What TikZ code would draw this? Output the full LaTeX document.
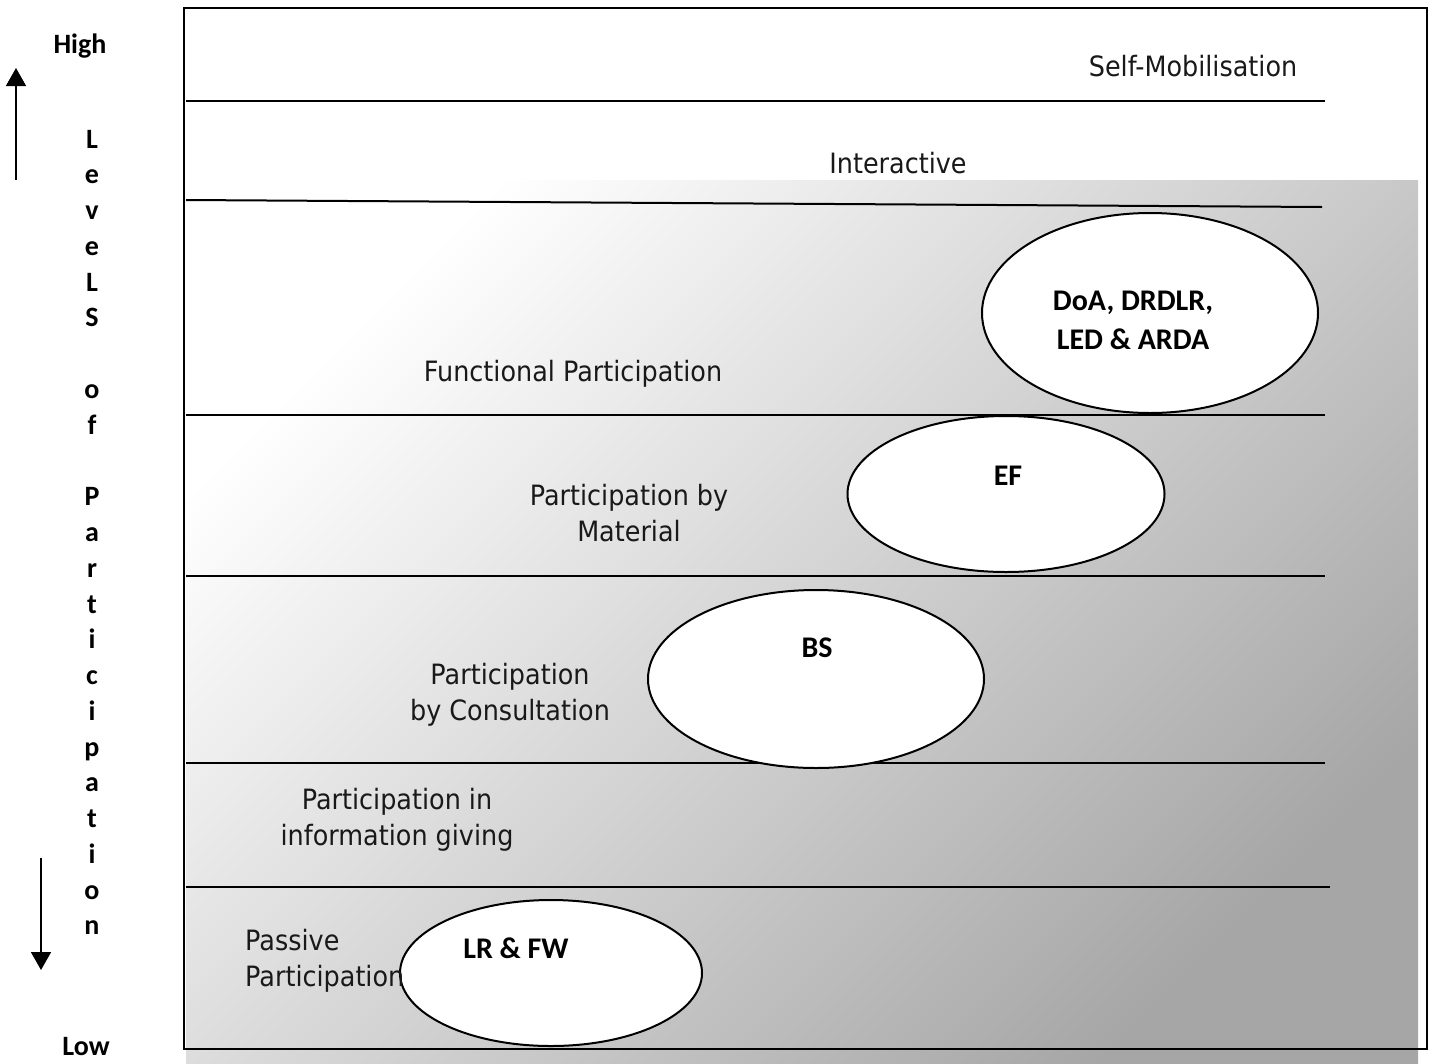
\documentclass[tikz,border=0pt]{standalone}
\usepackage{fontspec}
\setmainfont[FakeStretch=0.91]{DejaVu Sans}
\newfontfamily\lblfont{Carlito}
\usetikzlibrary{arrows.meta,shapes.geometric}
\tikzset{
  band/.style={line width=2pt, draw=black},
  blob/.style={ellipse, draw=black, fill=white, line width=2pt, inner sep=0pt},
  lvl/.style={font=\fontsize{28pt}{36pt}\selectfont, align=center, inner sep=0pt, text=black!90},
  actor/.style={font=\lblfont\bfseries\fontsize{30pt}{39pt}\selectfont, align=center, inner sep=0pt},
  axislbl/.style={font=\lblfont\bfseries\fontsize{28pt}{32pt}\selectfont, inner sep=0pt, anchor=base},
  axisarrow/.style={line width=1.6pt, -{Triangle[width=20pt,length=18pt]}}
}
\begin{document}
\begin{tikzpicture}[x=1pt,y=-1pt]
\useasboundingbox (0,0) rectangle (1429,1063);
% gradient panel
\shade[top color=white, bottom color=black!35, shading angle=45] (186,180) rectangle (1418,1063);
% frame
\draw[band] (184,8) rectangle (1427,1049);
% band separators
\coordinate (l1a) at (186,101); \coordinate (l1b) at (1325,101);
\coordinate (l2a) at (186,200); \coordinate (l2b) at (1322,207);
\coordinate (l3a) at (186,415); \coordinate (l3b) at (1325,415);
\coordinate (l4a) at (186,576); \coordinate (l4b) at (1325,576);
\coordinate (l5a) at (186,763); \coordinate (l5b) at (1325,763);
\coordinate (l6a) at (186,887); \coordinate (l6b) at (1330,887);
\draw[band] (l1a) -- (l1b);
\draw[band] (l2a) -- (l2b);
\draw[band] (l3a) -- (l3b);
\draw[band] (l4a) -- (l4b);
\draw[band] (l5a) -- (l5b);
\draw[band] (l6a) -- (l6b);
% level labels
\node[lvl] (selfmob) at (1193,66) {Self-Mobilisation};
\node[lvl] (inter) at (898,163) {Interactive};
\node[lvl] (func) at (573,374) {Functional Participation};
\node[lvl] (mat) at (629,513) {Participation by\\Material};
\node[lvl] (cons) at (510,695) {Participation\\by Consultation};
\node[lvl] (info) at (397,820) {Participation in\\information giving};
% ellipses
\node[blob, minimum width=336pt, minimum height=200pt] (e1) at (1150,313) {};
\node[blob, minimum width=317pt, minimum height=156pt] (e2) at (1006,494) {};
\node[blob, minimum width=336pt, minimum height=178pt] (e3) at (816,679) {};
\node[blob, minimum width=302pt, minimum height=146pt] (e4) at (551,973) {};
\node[lvl, align=left, anchor=west] (pass) at (245,961) {Passive\\Participation};
\node[actor] (t1) at (1133,320) {DoA, DRDLR,\\LED \& ARDA};
\node[actor] (t2) at (1008,476) {EF};
\node[actor] (t3) at (817,648) {BS};
\node[actor] (t4) at (516,948) {LR \& FW};
% axis
\node[axislbl] (high) at (80,53) {High};
\node[axislbl] (low) at (86,1055) {Low};
\foreach \c [count=\i from 0] in {L,e,v,e,L,S,{},o,f,{},P,a,r,t,i,c,i,p,a,t,i,o,n}{
  \node[axislbl] (ax\i) at (92,148+35.77*\i) {\c};
}
\coordinate (upt) at (16,180); \coordinate (uph) at (16,68);
\coordinate (dnt) at (41,858); \coordinate (dnh) at (41,970);
\draw[axisarrow] (upt) -- (uph);
\draw[axisarrow] (dnt) -- (dnh);
\end{tikzpicture}
\end{document}
